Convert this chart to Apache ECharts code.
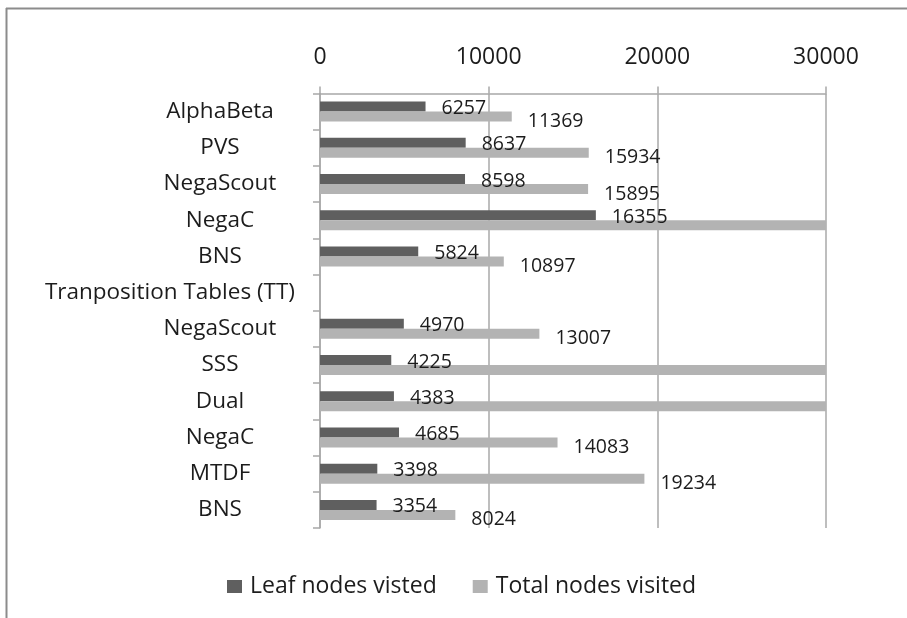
<!DOCTYPE html>
<html>
<head>
<meta charset="utf-8">
<title>Nodes visited per search algorithm</title>
<script src="https://cdn.jsdelivr.net/npm/echarts@6/dist/echarts.min.js"></script>
<style>
  html, body { margin: 0; padding: 0; background: #ffffff; }
  #chart { width: 907px; height: 618px; }
</style>
</head>
<body>
<div id="chart"></div>
<script>
// Algorithms, top to bottom; the "Tranposition Tables (TT)" row is a section heading with no bars.
const categories = [
  'AlphaBeta', 'PVS', 'NegaScout', 'NegaC', 'BNS',
  'Tranposition Tables (TT)',
  'NegaScout', 'SSS', 'Dual', 'NegaC', 'MTDF', 'BNS'
];
const headingCategory = 'Tranposition Tables (TT)';

const leafNodes = [6257, 8637, 8598, 16355, 5824, null, 4970, 4225, 4383, 4685, 3398, 3354];

// Runs past the 30000 axis limit are cut off at the plot edge and carry no label.
const totalNodes = [11369, 15934, 15895, 36000, 10897, null, 13007, 36000, 36000, 14083, 19234, 8024];

const xTicks = [0, 10000, 20000, 30000];
const axisMax = 30000;

const FONT = '"Open Sans", "Noto Sans", sans-serif';
const TEXT = '#1c1c1c';
const LINE = '#a8a8a8';

function withLabels(values, yShift) {
  return values.map(v => {
    if (v === null) return null;
    if (v > axisMax) return { value: v, label: { show: false } };
    return { value: v, label: { offset: [0, yShift] } };
  });
}

// Short names sit centred in the label column; the long heading is flush right.
const yAxisData = categories.map(name =>
  name === headingCategory
    ? { value: name, textStyle: { align: 'right', padding: [0, 0, 0, 0] } }
    : name
);

const chart = echarts.init(document.getElementById('chart'), null, { renderer: 'canvas' });

chart.setOption({
  backgroundColor: '#ffffff',
  animation: false,
  textStyle: { fontFamily: FONT },
  graphic: [
    { type: 'line', shape: { x1: 6, y1: 8.5, x2: 907, y2: 8.5 }, style: { stroke: '#8c8c8c', lineWidth: 2 } },
    { type: 'line', shape: { x1: 6.5, y1: 8, x2: 6.5, y2: 618 }, style: { stroke: '#8c8c8c', lineWidth: 2 } }
  ],
  grid: { left: 320, right: 81, top: 93.5, bottom: 90, containLabel: false },
  xAxis: {
    type: 'value',
    position: 'top',
    min: xTicks[0],
    max: axisMax,
    interval: xTicks[1] - xTicks[0],
    axisLine: { show: true, lineStyle: { color: LINE, width: 1.5 } },
    axisTick: { show: true, length: 7, lineStyle: { color: LINE, width: 1.5 } },
    splitLine: { show: true, lineStyle: { color: LINE, width: 1.5 } },
    axisLabel: {
      color: TEXT, fontSize: 23, fontFamily: FONT, margin: 25,
      formatter: v => String(v)
    }
  },
  yAxis: {
    type: 'category',
    inverse: true,
    data: yAxisData,
    axisLine: { show: true, lineStyle: { color: LINE, width: 1.5 } },
    axisTick: { show: true, length: 7, lineStyle: { color: LINE, width: 1.5 } },
    splitLine: { show: false },
    axisLabel: {
      color: TEXT, fontSize: 22.5, fontFamily: FONT, margin: 25,
      align: 'center', padding: [0, 150, 0, 0]
    }
  },
  legend: {
    left: 222,
    top: 570,
    icon: 'rect',
    itemWidth: 15,
    itemHeight: 13,
    itemGap: 36,
    textStyle: { color: TEXT, fontSize: 23, fontFamily: FONT, padding: [0, 0, 0, 3] },
    data: ['Leaf nodes visted', 'Total nodes visited']
  },
  series: [
    {
      name: 'Leaf nodes visted',
      type: 'bar',
      data: withLabels(leafNodes, 2),
      barWidth: 10,
      barGap: '0%',
      clip: true,
      itemStyle: { color: '#5f5f5f' },
      label: { show: true, position: 'right', distance: 16, color: TEXT, fontSize: 19.5, fontFamily: FONT }
    },
    {
      name: 'Total nodes visited',
      type: 'bar',
      data: withLabels(totalNodes, 5),
      barWidth: 10,
      barGap: '0%',
      clip: true,
      itemStyle: { color: '#b3b3b3' },
      label: { show: true, position: 'right', distance: 16, color: TEXT, fontSize: 19.5, fontFamily: FONT }
    }
  ]
});
</script>
</body>
</html>
